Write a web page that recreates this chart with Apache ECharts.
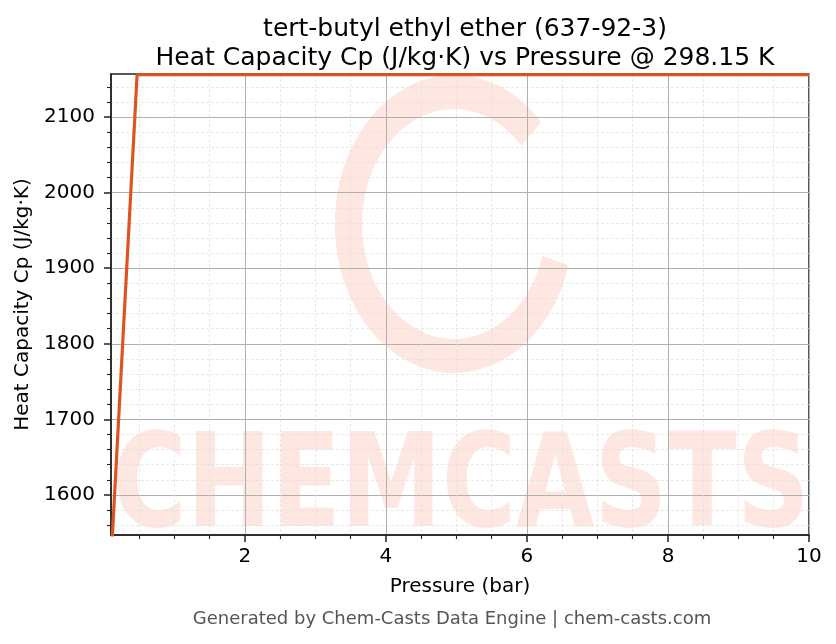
<!DOCTYPE html>
<html>
<head>
<meta charset="utf-8">
<script src="https://cdn.jsdelivr.net/npm/echarts@6/dist/echarts.min.js"></script>
<style>
html,body{margin:0;padding:0;background:#fff;}
#chart{width:836px;height:644px;}
</style>
</head>
<body>
<div id="chart"></div>
<script>
// pressure (bar) and Cp (J/kg.K)
var pressure = [0.1, 0.47, 1, 2, 4, 6, 8, 10];
var cp = [1512, 2156, 2156, 2156, 2156, 2156, 2156, 2156];
var xTicks = [2, 4, 6, 8, 10];
var yTicks = [1600, 1700, 1800, 1900, 2000, 2100];
var titleLines = ['tert-butyl ethyl ether (637-92-3)', 'Heat Capacity Cp (J/kg\u00b7K) vs Pressure @ 298.15 K'];

var font = 'DejaVu Sans';
var chart = echarts.init(document.getElementById('chart'));

var pts = [];
for(var i = 0;i<pressure.length;i++){
	pts.push([pressure[i], cp[i]]);
}
// minor tick positions (every 0.5 bar / every 20 J/kg.K), majors left out
var xMinor = [];
for(var k = 1;k<20;k++){
	if(k % 4 != 0) xMinor.push(k*0.5);
}
var yMinor = [];
for(var v = 1560;v<2157;v+=20){
	if(v % 100 != 0) yMinor.push(v);
}

var axisColor = '#222';
function plainLabel(v){ return String(v); }

var option = {
	animation:false,
	backgroundColor:'#fff',
	title:{
		text:titleLines.join('\n'),
		left:460,
		top:10,
		textAlign:'center',
		textStyle:{fontFamily:font,fontSize:25,fontWeight:'normal',color:'#000',lineHeight:29}
	},
	graphic:[
		{
			type:'arc',
			z:-1,
			x:454, y:224,
			scaleX:0.8,
			shape:{cx:0,cy:0,r:132,startAngle:0.28,endAngle:-0.75,clockwise:true},
			style:{fill:null,stroke:'#fee6e1',lineWidth:34}
		},
		{
			type:'text',
			z:-1,
			x:461, y:492,
			scaleX:0.78,
			style:{text:'CHEMCASTS',fill:'#fee6e1',font:'bold 130px "DejaVu Sans"',align:'center',verticalAlign:'middle'}
		},
		{
			type:'text',
			x:452, y:619,
			style:{text:'Generated by Chem-Casts Data Engine | chem-casts.com',fill:'#555',font:'18px "DejaVu Sans"',align:'center',verticalAlign:'middle'}
		}
	],
	grid:{left:111,right:27,top:74,bottom:109,show:true,borderColor:axisColor,borderWidth:1.5,backgroundColor:'transparent'},
	xAxis:[
		{
			type:'value',
			min:0.1, max:10,
			name:'Pressure (bar)', nameLocation:'middle', nameGap:42,
			nameTextStyle:{fontFamily:font,fontSize:20,color:'#000'},
			axisLine:{lineStyle:{color:axisColor,width:1.5}},
			axisTick:{length:7,customValues:xTicks,lineStyle:{color:axisColor,width:1.5}},
			axisLabel:{fontFamily:font,fontSize:20,color:'#000',margin:12,customValues:xTicks,formatter:plainLabel},
			splitLine:{lineStyle:{color:'#b0b0b0',width:1}}
		},
		{
			type:'value',
			position:'bottom',
			min:0.1, max:10,
			axisLine:{show:false},
			axisTick:{length:4,customValues:xMinor,lineStyle:{color:axisColor,width:1.1}},
			axisLabel:{show:false},
			splitLine:{show:true,lineStyle:{color:'#dedede',width:0.7,type:[3,2]}}
		}
	],
	yAxis:[
		{
			type:'value',
			min:1547, max:2157,
			name:'Heat Capacity Cp (J/kg\u00b7K)', nameLocation:'middle', nameGap:76,
			nameTextStyle:{fontFamily:font,fontSize:20,color:'#000'},
			axisLine:{show:true,lineStyle:{color:axisColor,width:1.5}},
			axisTick:{show:true,length:7,customValues:yTicks,lineStyle:{color:axisColor,width:1.5}},
			axisLabel:{fontFamily:font,fontSize:20,color:'#000',margin:16,customValues:yTicks,formatter:plainLabel},
			splitLine:{lineStyle:{color:'#b0b0b0',width:1}}
		},
		{
			type:'value',
			position:'left',
			min:1547, max:2157,
			axisLine:{show:false},
			axisTick:{show:true,length:4,customValues:yMinor,lineStyle:{color:axisColor,width:1.1}},
			axisLabel:{show:false},
			splitLine:{show:true,lineStyle:{color:'#dedede',width:0.7,type:[3,2]}}
		}
	],
	series:[
		{
			type:'line',
			data:pts,
			showSymbol:false,
			clip:true,
			lineStyle:{color:'#dd5420',width:3.2}
		}
	]
};
chart.setOption(option);
</script>
</body>
</html>
